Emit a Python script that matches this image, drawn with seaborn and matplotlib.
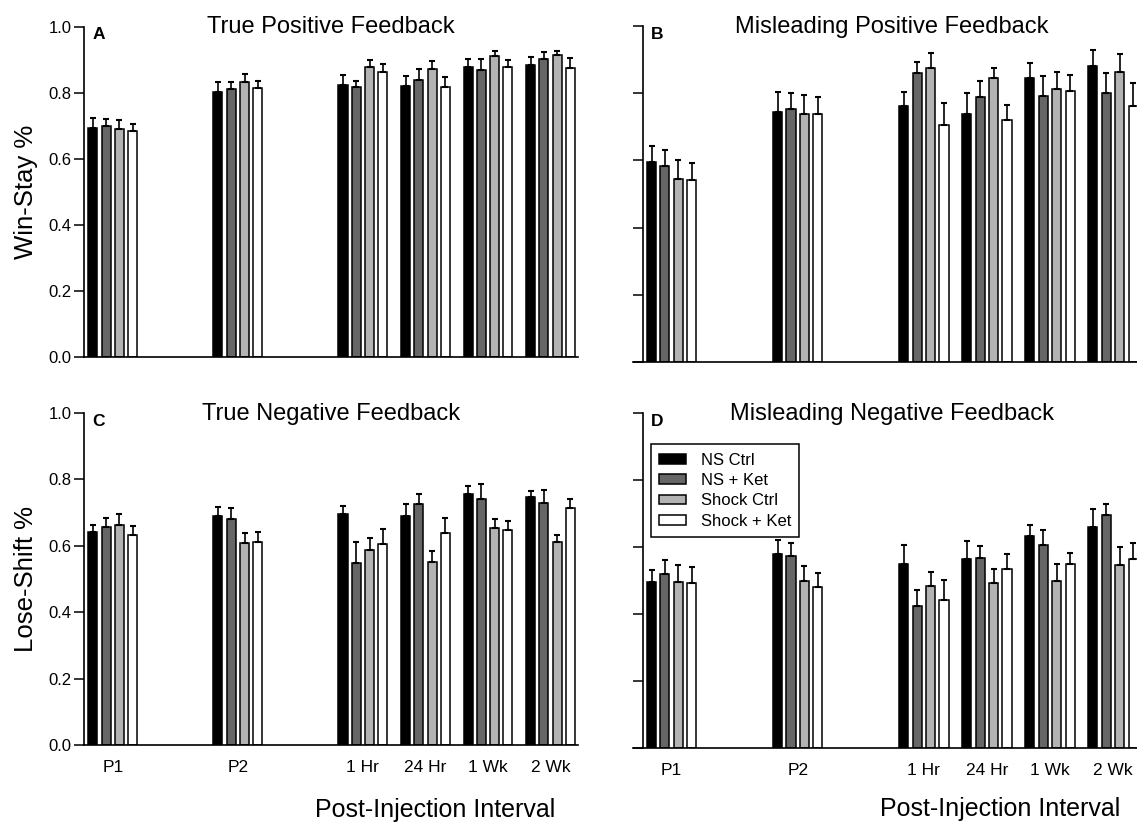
import numpy as np
import pandas as pd
import matplotlib
matplotlib.use('Agg')
import matplotlib.pyplot as plt
from matplotlib.patches import Patch
from matplotlib.container import BarContainer
import seaborn as sns

sns.set_style('ticks')
plt.rcParams['font.family'] = ['Liberation Sans', 'DejaVu Sans']
plt.rcParams['text.color'] = 'black'
plt.rcParams['axes.labelcolor'] = 'black'

intervals = ['P1', 'P2', '1 Hr', '24 Hr', '1 Wk', '2 Wk']
groups = ['NS Ctrl', 'NS + Ket', 'Shock Ctrl', 'Shock + Ket']
colors = ['#000000', '#666666', '#b3b3b3', '#ffffff']
# blank slots give the wide gaps after P1 and P2
order = ['P1', ' ', 'P2', '  ', '1 Hr', '24 Hr', '1 Wk', '2 Wk']

# one row per group, one value per interval
tp_mean = [[0.694, 0.803, 0.823, 0.820, 0.877, 0.884],
           [0.700, 0.811, 0.817, 0.838, 0.870, 0.901],
           [0.690, 0.833, 0.877, 0.872, 0.911, 0.913],
           [0.683, 0.814, 0.864, 0.818, 0.877, 0.876]]
tp_err = [[0.031, 0.031, 0.031, 0.030, 0.024, 0.024],
          [0.022, 0.021, 0.019, 0.033, 0.031, 0.021],
          [0.027, 0.024, 0.021, 0.024, 0.015, 0.012],
          [0.021, 0.023, 0.022, 0.031, 0.023, 0.028]]

mp_mean = [[0.596, 0.744, 0.762, 0.739, 0.846, 0.880],
           [0.582, 0.754, 0.860, 0.790, 0.792, 0.801],
           [0.544, 0.737, 0.875, 0.844, 0.813, 0.864],
           [0.543, 0.739, 0.704, 0.720, 0.806, 0.763]]
mp_err = [[0.048, 0.061, 0.042, 0.062, 0.044, 0.049],
          [0.050, 0.047, 0.032, 0.047, 0.060, 0.059],
          [0.058, 0.058, 0.045, 0.031, 0.049, 0.052],
          [0.049, 0.049, 0.067, 0.045, 0.047, 0.067]]

tn_mean = [[0.640, 0.691, 0.696, 0.691, 0.757, 0.748],
           [0.656, 0.682, 0.549, 0.725, 0.742, 0.729],
           [0.663, 0.607, 0.588, 0.552, 0.653, 0.610],
           [0.631, 0.612, 0.606, 0.637, 0.649, 0.713]]
tn_err = [[0.023, 0.025, 0.025, 0.034, 0.024, 0.018],
          [0.028, 0.033, 0.063, 0.032, 0.045, 0.039],
          [0.033, 0.032, 0.034, 0.032, 0.027, 0.022],
          [0.029, 0.029, 0.046, 0.047, 0.026, 0.029]]

mn_mean = [[0.495, 0.578, 0.548, 0.565, 0.632, 0.660],
           [0.520, 0.574, 0.425, 0.567, 0.607, 0.696],
           [0.497, 0.499, 0.483, 0.492, 0.499, 0.546],
           [0.494, 0.482, 0.442, 0.534, 0.548, 0.563]]
mn_err = [[0.037, 0.043, 0.058, 0.053, 0.034, 0.052],
          [0.040, 0.039, 0.048, 0.036, 0.045, 0.033],
          [0.049, 0.044, 0.042, 0.041, 0.050, 0.054],
          [0.046, 0.039, 0.059, 0.045, 0.034, 0.049]]


def draw(ax, means, errs, title, letter, left, bottom, title_x):
    df = pd.DataFrame({'interval': np.tile(intervals, len(groups)),
                       'group': np.repeat(groups, len(intervals)),
                       'value': np.ravel(means)})
    sns.barplot(data=df, x='interval', y='value', hue='group', order=order,
                hue_order=groups, palette=colors, width=0.85, gap=0.32,
                edgecolor='black', linewidth=1.1, errorbar=None,
                legend=False, ax=ax)
    bar_sets = [c for c in ax.containers if isinstance(c, BarContainer)]
    # one-sided (upper) error bars on top of each bar
    for gi, cont in enumerate(bar_sets):
        for bar in cont:
            xc = bar.get_x() + bar.get_width() / 2
            cat = order[int(round(xc))]
            if cat not in intervals or np.isnan(bar.get_height()):
                continue
            e = errs[gi][intervals.index(cat)]
            ax.errorbar(xc, bar.get_height(), yerr=[[0], [e]], fmt='none',
                        ecolor='black', elinewidth=1.2, capsize=2, capthick=1.5)

    ax.set_ylim(0, 1.0)
    ax.set_yticks(np.arange(0, 1.01, 0.2))
    ax.set_xticks([order.index(c) for c in intervals])
    ax.set_xticklabels(intervals if bottom else [])
    ax.tick_params(axis='x', length=0, pad=11, labelsize=12.5, colors='black')
    ax.tick_params(axis='y', length=7, width=1.1, direction='out', pad=2,
                   labelsize=12, colors='black')
    for s in ['left', 'bottom']:
        ax.spines[s].set_linewidth(1.2)
        ax.spines[s].set_color('black')
    sns.despine(ax=ax)
    if left:
        ax.set_xlim(-0.46, 7.44)
        ax.yaxis.set_major_formatter(matplotlib.ticker.FormatStrFormatter('%.1f'))
    else:
        ax.set_xlim(-0.62, 7.38)
        ax.spines['left'].set_position(('data', -0.455))
        ax.set_yticklabels([])
    ax.set_xlabel('')
    ax.set_ylabel('')
    ax.text(title_x, 0.98, title, transform=ax.transAxes, ha='center',
            va='baseline', fontsize=17)
    ax.text(0.017 if left else 0.037, 0.975, letter, transform=ax.transAxes,
            ha='left', va='center', fontsize=12.5, fontweight='bold')


fig = plt.figure(figsize=(11.37, 8.22), dpi=100)
axA = fig.add_axes([0.0739, 0.5657, 0.4345, 0.4018])
axB = fig.add_axes([0.5563, 0.5596, 0.4437, 0.4088])
axC = fig.add_axes([0.0739, 0.0937, 0.4345, 0.4039])
axD = fig.add_axes([0.5563, 0.0900, 0.4437, 0.4076])

draw(axA, tp_mean, tp_err, 'True Positive Feedback', 'A', True, False, 0.5)
draw(axB, mp_mean, mp_err, 'Misleading Positive Feedback', 'B', False, False, 0.513)
draw(axC, tn_mean, tn_err, 'True Negative Feedback', 'C', True, True, 0.5)
draw(axD, mn_mean, mn_err, 'Misleading Negative Feedback', 'D', False, True, 0.514)

axA.set_ylabel('Win-Stay %', fontsize=18.5)
axA.yaxis.set_label_coords(-0.093, 0.5)
axC.set_ylabel('Lose-Shift %', fontsize=18.5)
axC.yaxis.set_label_coords(-0.093, 0.5)

axC.set_xlabel('Post-Injection Interval', fontsize=18)
axC.xaxis.set_label_coords(0.711, -0.16)
axD.set_xlabel('Post-Injection Interval', fontsize=18)
axD.xaxis.set_label_coords(0.728, -0.146)

handles = [Patch(facecolor=c, edgecolor='black', linewidth=1.1, label=g)
           for c, g in zip(colors, groups)]
axD.legend(handles=handles, loc='upper left', bbox_to_anchor=(0.036, 0.906),
           borderaxespad=0, fontsize=12, frameon=True, fancybox=False,
           edgecolor='black', framealpha=1, handlelength=1.6,
           handleheight=0.5, handletextpad=0.9, labelspacing=0.32,
           borderpad=0.5)
axD.get_legend().get_frame().set_linewidth(1.1)

fig.savefig('out.png', dpi=100)
